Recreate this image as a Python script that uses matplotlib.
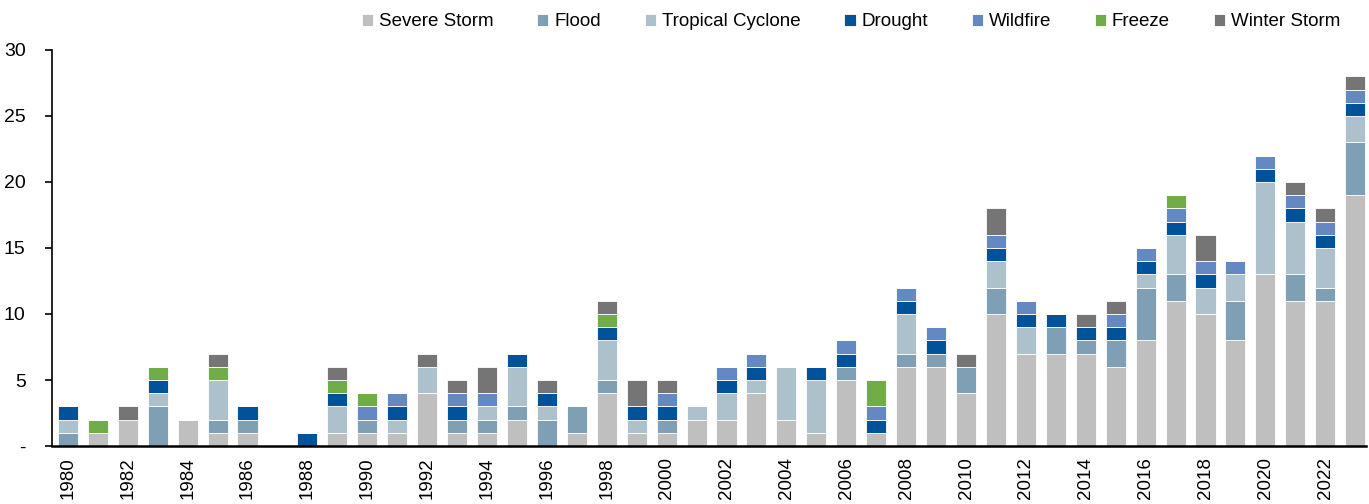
import matplotlib
matplotlib.use("Agg")
import matplotlib.pyplot as plt
import numpy as np

plt.rcParams['font.family'] = ['Liberation Sans', 'DejaVu Sans']

years = list(range(1980, 2024))
severe_storm = [0,1,2,0,2,1,1,0,0,1,1,1,4,1,1,2,0,1,4,1,1,2,2,4,2,1,5,1,6,6,4,10,7,7,7,6,8,11,10,8,13,11,11,19]
flood        = [1,0,0,3,0,1,1,0,0,0,1,0,0,1,1,1,2,2,1,0,1,0,0,0,0,0,1,0,1,1,2,2,0,2,1,2,4,2,0,3,0,2,1,4]
tropical     = [1,0,0,1,0,3,0,0,0,2,0,1,2,0,1,3,1,0,3,1,0,1,2,1,4,4,0,0,3,0,0,2,2,0,0,0,1,3,2,2,7,4,3,2]
drought      = [1,0,0,1,0,0,1,0,1,1,0,1,0,1,0,1,1,0,1,1,1,0,1,1,0,1,1,1,1,1,0,1,1,1,1,1,1,1,1,0,1,1,1,1]
wildfire     = [0,0,0,0,0,0,0,0,0,0,1,1,0,1,1,0,0,0,0,0,1,0,1,1,0,0,1,1,1,1,0,1,1,0,0,1,1,1,1,1,1,1,1,1]
freeze       = [0,1,0,1,0,1,0,0,0,1,1,0,0,0,0,0,0,0,1,0,0,0,0,0,0,0,0,2,0,0,0,0,0,0,0,0,0,1,0,0,0,0,0,0]
winter_storm = [0,0,1,0,0,1,0,0,0,1,0,0,1,1,2,0,1,0,1,2,1,0,0,0,0,0,0,0,0,0,1,2,0,0,1,1,0,0,2,0,0,1,1,1]

series = [
    ("Severe Storm", severe_storm, "#bfbfbf"),
    ("Flood", flood, "#7f9fb5"),
    ("Tropical Cyclone", tropical, "#adc1cc"),
    ("Drought", drought, "#00529b"),
    ("Wildfire", wildfire, "#6388c2"),
    ("Freeze", freeze, "#70ad47"),
    ("Winter Storm", winter_storm, "#757575"),
]

fig = plt.figure(figsize=(13.69, 5.04), dpi=100)
ax = fig.add_axes([0.038, 0.115, 0.960, 0.786])

x = np.arange(len(years))
bottom = np.zeros(len(years))
for name, vals, col in series:
    v = np.array(vals, dtype=float)
    ax.bar(x, v, bottom=bottom, width=0.67, color=col, edgecolor="white",
           linewidth=0.6, label=name)
    bottom += v

ax.set_xlim(-0.53, len(years) - 0.63)
ax.set_ylim(0, 30)
ax.set_yticks([0, 5, 10, 15, 20, 25, 30])
ax.set_yticklabels(["-", "5", "10", "15", "20", "25", "30"], fontsize=14)
ax.set_xticks(x[::2])
ax.set_xticklabels([str(y) for y in years[::2]], rotation=90, fontsize=13.5)
ax.tick_params(axis='x', length=0, pad=8)
ax.tick_params(axis='y', length=5, width=1.2, direction='out', pad=14)

for s in ["top", "right"]:
    ax.spines[s].set_visible(False)
ax.spines["left"].set_linewidth(1.2)
ax.spines["bottom"].set_linewidth(1.8)

leg = fig.legend(loc="center right", bbox_to_anchor=(0.979, 0.957), ncol=7, frameon=False,
                 fontsize=13.5, handlelength=0.6, handleheight=0.6, handletextpad=0.3,
                 columnspacing=2.35, borderaxespad=0, borderpad=0)

fig.savefig("out.png", dpi=100)
